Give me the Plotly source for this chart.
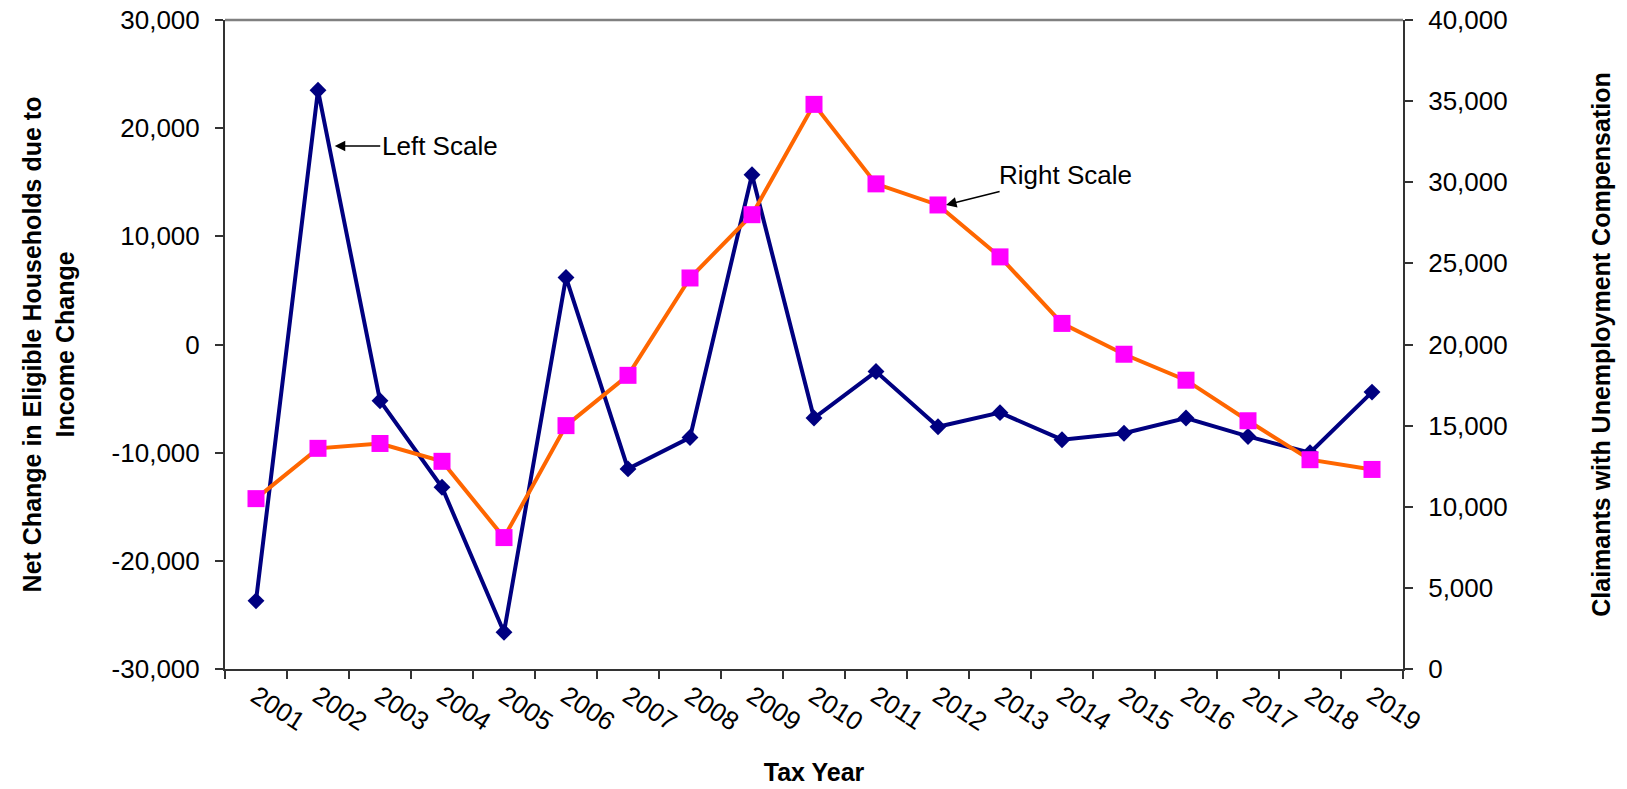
import plotly.graph_objects as go

years = [str(y) for y in range(2001, 2020)]
net_change = [-23700, 23500, -5200, -13200, -26600, 6200, -11500, -8600, 15700, -6800,
              -2500, -7600, -6300, -8800, -8200, -6800, -8500, -10000, -4400]
claimants = [10500, 13600, 13900, 12800, 8100, 15000, 18100, 24100, 28000, 34800,
             29900, 28600, 25400, 21300, 19400, 17800, 15300, 12900, 12300]

left_ticks = list(range(-30000, 30001, 10000))
left_labels = ["-30,000", "-20,000", "-10,000", "0", "10,000", "20,000", "30,000"]
right_ticks = list(range(0, 40001, 5000))
right_labels = ["0", "5,000", "10,000", "15,000", "20,000", "25,000", "30,000", "35,000", "40,000"]

FONT = "Liberation Sans, Arial, sans-serif"
FS = 26

fig = go.Figure()
fig.add_trace(go.Scatter(
    x=years, y=net_change, mode="lines+markers", name="Net Change",
    line=dict(color="#000080", width=4),
    marker=dict(symbol="diamond", size=13, color="#000080"),
    yaxis="y", showlegend=False))
fig.add_trace(go.Scatter(
    x=years, y=claimants, mode="lines+markers", name="Claimants",
    line=dict(color="#FF6600", width=4),
    marker=dict(symbol="square", size=17, color="#FF00FF"),
    yaxis="y2", showlegend=False))

fig.update_layout(
    width=1627, height=789,
    margin=dict(l=225, r=224, t=20, b=120),
    paper_bgcolor="white", plot_bgcolor="white",
    font=dict(family=FONT, size=FS, color="black"),
    xaxis=dict(
        type="category", tickson="boundaries", ticks="outside", ticklen=8,
        tickcolor="#333333", tickwidth=1.5, automargin=False,
        showline=True, linecolor="#333333", linewidth=2,
        showgrid=False, zeroline=False, tickangle=33,
        tickfont=dict(family=FONT, size=FS), ticklabeloverflow="allow",
        title=dict(text="<b>Tax Year</b>", font=dict(family=FONT, size=25), standoff=28),
        range=[-0.5, 18.5],
    ),
    yaxis=dict(
        range=[-30000, 30000], tickvals=left_ticks, ticktext=left_labels,
        ticks="outside", ticklen=8, tickcolor="#333333", tickwidth=1.5,
        showline=True, linecolor="#333333", linewidth=2, automargin=False,
        showgrid=False, zeroline=False, ticklabelstandoff=10,
        tickfont=dict(family=FONT, size=FS), ticklabeloverflow="allow",
        title=dict(text="<b>Net Change in Eligible Households due to<br>Income Change</b>",
                   font=dict(family=FONT, size=25), standoff=30),
    ),
    yaxis2=dict(
        range=[0, 40000], tickvals=right_ticks, ticktext=right_labels,
        overlaying="y", side="right", automargin=False,
        ticks="outside", ticklen=8, tickcolor="#333333", tickwidth=1.5,
        showline=True, linecolor="#333333", linewidth=2,
        showgrid=False, zeroline=False, ticklabelstandoff=10,
        tickfont=dict(family=FONT, size=FS), ticklabeloverflow="allow",
        title=dict(text="<b>Claimants with Unemployment Compensation</b>",
                   font=dict(family=FONT, size=25), standoff=86),
    ),
)

# top border of the plot area
fig.add_shape(type="line", xref="paper", yref="paper", x0=0, x1=1, y0=1, y1=1,
              line=dict(color="#808080", width=2.5))

fig.add_annotation(x=1.27, y=18350, xref="x", yref="y", text="Left Scale",
                   showarrow=True, arrowhead=2, arrowsize=1.4, arrowwidth=1.5,
                   arrowcolor="black", ax=105, ay=0,
                   font=dict(family=FONT, size=FS, color="black"))
fig.add_annotation(x=11.13, y=28600, xref="x", yref="y2", text="Right Scale",
                   showarrow=True, arrowhead=2, arrowsize=1.4, arrowwidth=1.5,
                   arrowcolor="black", ax=119, ay=-30,
                   font=dict(family=FONT, size=FS, color="black"))

fig.write_html("out.html", config={"displayModeBar": False},
               post_script="document.body.style.margin='0';document.body.style.overflow='hidden';")
